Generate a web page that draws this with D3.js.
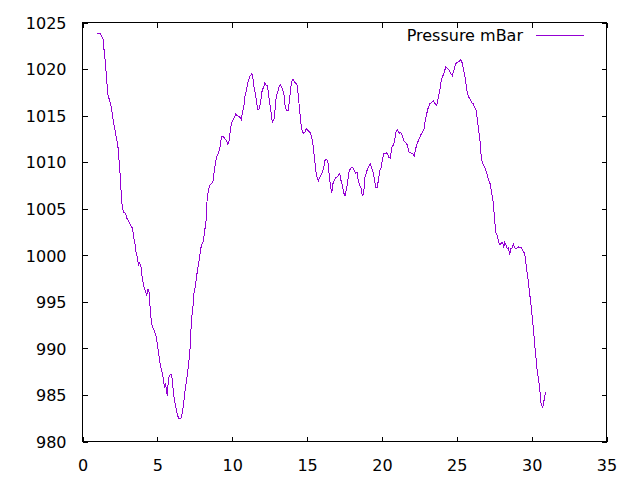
<!DOCTYPE html>
<html>
<head>
<meta charset="utf-8">
<script src="https://cdn.jsdelivr.net/npm/d3@7"></script>
<style>
  body { margin: 0; background: #fff; }
  svg { display: block; }
  text { font-family: "DejaVu Sans", sans-serif; font-size: 16px; fill: #000; }
</style>
</head>
<body>
<svg id="chart" width="640" height="480"></svg>
<script>

  //============================================================
  // Data
  //------------------------------------------------------------

  var seriesName = 'Pressure mBar';

  var day = [
    1.00, 1.18, 1.25, 1.32, 1.40, 1.43, 1.50, 1.56, 1.63, 1.70, 1.78, 1.85, 1.94, 2.03, 2.12, 2.20,
    2.30, 2.38, 2.47, 2.54, 2.60, 2.67, 2.74, 2.87, 2.96, 3.12, 3.23, 3.34, 3.43, 3.52, 3.58, 3.67,
    3.74, 3.81, 3.90, 3.97, 4.05, 4.14, 4.23, 4.30, 4.37, 4.45, 4.52, 4.61, 4.70, 4.79, 4.90, 4.99,
    5.07, 5.17, 5.25, 5.34, 5.41, 5.47, 5.54, 5.61, 5.67, 5.74, 5.83, 5.92, 5.99, 6.07, 6.17, 6.26,
    6.34, 6.44, 6.57, 6.66, 6.74, 6.84, 6.92, 7.01, 7.10, 7.19, 7.28, 7.37, 7.44, 7.52, 7.61, 7.68,
    7.77, 7.86, 7.94, 8.04, 8.12, 8.21, 8.28, 8.32, 8.41, 8.50, 8.59, 8.70, 8.81, 8.91, 8.99, 9.08,
    9.17, 9.28, 9.39, 9.51, 9.61, 9.71, 9.79, 9.86, 9.95, 10.04, 10.15, 10.24, 10.33, 10.44, 10.53, 10.61,
    10.68, 10.77, 10.86, 10.95, 11.04, 11.13, 11.21, 11.31, 11.38, 11.46, 11.55, 11.64, 11.73, 11.82, 11.91, 12.00,
    12.08, 12.18, 12.26, 12.35, 12.42, 12.51, 12.60, 12.68, 12.78, 12.86, 12.95, 13.04, 13.15, 13.23, 13.35, 13.46,
    13.55, 13.64, 13.75, 13.82, 13.91, 14.02, 14.11, 14.22, 14.31, 14.40, 14.49, 14.58, 14.67, 14.75, 14.85, 14.95,
    15.07, 15.20, 15.31, 15.40, 15.49, 15.58, 15.67, 15.75, 15.85, 15.93, 16.02, 16.11, 16.20, 16.29, 16.38, 16.47,
    16.56, 16.65, 16.74, 16.82, 16.92, 17.00, 17.09, 17.18, 17.27, 17.36, 17.45, 17.54, 17.62, 17.72, 17.80, 17.89,
    17.98, 18.07, 18.16, 18.25, 18.34, 18.42, 18.52, 18.61, 18.69, 18.78, 18.87, 18.96, 19.05, 19.14, 19.23, 19.32,
    19.41, 19.49, 19.59, 19.67, 19.76, 19.85, 19.94, 20.03, 20.12, 20.21, 20.29, 20.39, 20.47, 20.56, 20.65, 20.74,
    20.83, 20.92, 21.03, 21.14, 21.26, 21.36, 21.46, 21.56, 21.66, 21.74, 21.83, 21.94, 22.06, 22.16, 22.26, 22.36,
    22.48, 22.59, 22.70, 22.81, 22.90, 22.99, 23.10, 23.21, 23.32, 23.43, 23.54, 23.66, 23.77, 23.86, 23.95, 24.03,
    24.15, 24.26, 24.37, 24.48, 24.59, 24.70, 24.81, 24.93, 25.03, 25.15, 25.26, 25.35, 25.43, 25.53, 25.61, 25.70,
    25.79, 25.88, 25.99, 26.10, 26.19, 26.28, 26.37, 26.46, 26.55, 26.64, 26.73, 26.82, 26.90, 27.00, 27.10, 27.22,
    27.30, 27.40, 27.48, 27.55, 27.62, 27.70, 27.80, 27.88, 27.97, 28.06, 28.13, 28.20, 28.28, 28.37, 28.46, 28.53,
    28.60, 28.69, 28.77, 28.87, 28.95, 29.04, 29.13, 29.22, 29.31, 29.40, 29.49, 29.57, 29.67, 29.75, 29.84, 29.93,
    30.02, 30.11, 30.20, 30.29, 30.37, 30.47, 30.56, 30.64, 30.74, 30.80, 30.87, 30.96
  ];

  var pressure = [
    1023.8, 1023.8, 1023.6, 1023.4, 1023.1, 1022.2, 1021.1, 1020.1, 1018.5, 1017.2, 1016.8, 1016.4, 1015.8, 1014.7, 1013.9, 1013.2,
    1012.3, 1011.5, 1009.6, 1008.2, 1006.1, 1005.1, 1004.6, 1004.5, 1004.0, 1003.5, 1003.2, 1002.9, 1001.8, 1001.1, 1000.3, 999.7,
    998.9, 999.2, 998.9, 997.8, 997.0, 996.4, 996.0, 995.7, 996.4, 996.0, 994.3, 992.7, 992.2, 991.9, 991.4, 990.6,
    989.6, 988.5, 987.8, 987.3, 986.6, 985.8, 986.3, 985.5, 984.9, 986.8, 987.1, 987.2, 986.8, 985.3, 984.2, 983.5,
    982.8, 982.5, 982.5, 983.0, 983.9, 985.3, 986.2, 987.3, 988.5, 990.1, 993.2, 994.3, 995.9, 996.5, 997.6, 998.4,
    999.2, 1000.2, 1001.1, 1001.3, 1002.1, 1003.2, 1004.1, 1005.9, 1007.0, 1007.5, 1007.7, 1007.8, 1009.1, 1010.2, 1010.7, 1011.0,
    1011.5, 1012.7, 1012.8, 1012.5, 1012.3, 1011.9, 1012.3, 1013.2, 1014.2, 1014.5, 1014.8, 1015.2, 1015.0, 1014.9, 1014.8, 1014.6,
    1015.3, 1015.9, 1017.2, 1017.7, 1018.5, 1019.0, 1019.3, 1019.5, 1019.0, 1018.0, 1017.4, 1016.3, 1015.6, 1015.8, 1016.6, 1017.7,
    1018.0, 1018.5, 1018.3, 1018.2, 1017.4, 1016.3, 1015.3, 1014.3, 1014.5, 1015.6, 1017.2, 1017.5, 1018.2, 1018.3, 1017.9, 1017.2,
    1015.8, 1015.6, 1015.6, 1016.6, 1018.0, 1018.9, 1018.8, 1018.5, 1018.5, 1017.4, 1015.8, 1014.3, 1013.4, 1013.1, 1013.2, 1013.6,
    1013.4, 1013.2, 1012.7, 1011.8, 1010.5, 1009.1, 1008.4, 1008.0, 1008.4, 1008.6, 1008.9, 1009.4, 1010.2, 1010.3, 1010.2, 1008.8,
    1007.5, 1006.7, 1007.8, 1008.0, 1008.4, 1008.4, 1008.6, 1008.8, 1008.0, 1007.5, 1006.7, 1006.4, 1007.0, 1008.0, 1008.9, 1009.3,
    1009.4, 1009.4, 1009.1, 1008.8, 1008.9, 1008.0, 1007.5, 1007.2, 1006.4, 1006.6, 1008.4, 1008.9, 1009.3, 1009.6, 1009.8, 1009.4,
    1008.9, 1008.2, 1007.3, 1007.2, 1008.0, 1009.1, 1009.4, 1010.2, 1010.9, 1010.9, 1011.0, 1010.9, 1010.5, 1010.4, 1011.6, 1011.8,
    1012.1, 1013.2, 1013.5, 1013.1, 1013.2, 1012.9, 1012.3, 1012.1, 1012.0, 1011.5, 1011.0, 1011.0, 1010.9, 1010.7, 1011.5, 1012.0,
    1012.5, 1012.9, 1013.2, 1013.6, 1014.5, 1015.2, 1015.9, 1016.3, 1016.4, 1016.6, 1016.3, 1016.1, 1017.0, 1017.7, 1018.6, 1019.1,
    1019.6, 1020.2, 1020.1, 1019.9, 1019.5, 1019.3, 1019.9, 1020.6, 1020.7, 1020.8, 1021.0, 1020.7, 1020.1, 1019.3, 1018.5, 1017.5,
    1017.0, 1016.8, 1016.4, 1016.3, 1015.9, 1015.6, 1014.7, 1013.4, 1012.3, 1010.4, 1009.9, 1009.6, 1009.3, 1008.9, 1008.2, 1007.7,
    1007.0, 1006.1, 1004.8, 1003.4, 1002.4, 1002.1, 1001.4, 1001.1, 1001.3, 1001.4, 1000.8, 1001.4, 1001.1, 1000.7, 1000.8, 1000.0,
    1000.7, 1000.8, 1001.2, 1000.8, 1000.7, 1000.8, 1000.9, 1000.8, 1000.8, 1000.5, 1000.3, 999.8, 998.4, 997.6, 996.2, 995.1,
    993.7, 992.2, 990.5, 989.0, 987.6, 986.6, 985.3, 983.9, 983.7, 984.1, 984.9, 985.3
  ];

  var xTicks = [0, 5, 10, 15, 20, 25, 30, 35];
  var yTicks = [980, 985, 990, 995, 1000, 1005, 1010, 1015, 1020, 1025];

  //============================================================


  var margin = {top: 22.5, right: 33.5, bottom: 38.5, left: 82.5}
    , width = 640
    , height = 480
    , tickSize = 5
    , color = '#9400d3'
    , fmt = d3.format('d')
    ;

  var availableWidth = width - margin.left - margin.right,
      availableHeight = height - margin.top - margin.bottom;

  var data = day.map(function(d, i) { return {x: d, y: pressure[i]}; });

  //------------------------------------------------------------
  // Setup Scales

  var x = d3.scaleLinear()
      .domain([xTicks[0], xTicks[xTicks.length - 1]])
      .range([0, availableWidth]);

  var y = d3.scaleLinear()
      .domain([yTicks[0], yTicks[yTicks.length - 1]])
      .range([availableHeight, 0]);

  //------------------------------------------------------------

  var svg = d3.select('#chart');
  var g = svg.append('g')
      .attr('transform', 'translate(' + margin.left + ',' + margin.top + ')');

  // axes: gnuplot style, ticks pointing in, mirrored on top and right
  function styleAxis(sel, hideText) {
    sel.select('.domain').remove();
    sel.selectAll('.tick line').attr('stroke', '#000').attr('shape-rendering', 'crispEdges');
    if (hideText) sel.selectAll('.tick text').remove();
    sel.selectAll('.tick text').attr('font-family', null).attr('font-size', null).attr('fill', '#000');
  }

  var xAxisG = g.append('g')
      .attr('transform', 'translate(0,' + availableHeight + ')')
      .call(d3.axisBottom(x).tickValues(xTicks).tickFormat(fmt).tickSize(-tickSize).tickPadding(tickSize + 13))
      .call(styleAxis, false);

  g.append('g')
      .call(d3.axisTop(x).tickValues(xTicks).tickSize(-tickSize))
      .call(styleAxis, true);

  var yAxisG = g.append('g')
      .call(d3.axisLeft(y).tickValues(yTicks).tickFormat(fmt).tickSize(-tickSize).tickPadding(tickSize + 11))
      .call(styleAxis, false);

  g.append('g')
      .attr('transform', 'translate(' + availableWidth + ',0)')
      .call(d3.axisRight(y).tickValues(yTicks).tickSize(-tickSize))
      .call(styleAxis, true);

  yAxisG.selectAll('.tick text').attr('dy', '0.36em');
  xAxisG.selectAll('.tick text').attr('dy', '0.71em');

  // frame
  g.append('rect')
      .attr('width', availableWidth)
      .attr('height', availableHeight)
      .attr('fill', 'none')
      .attr('stroke', '#000')
      .attr('shape-rendering', 'crispEdges');

  //------------------------------------------------------------
  // Line

  g.append('path')
      .datum(data)
      .attr('fill', 'none')
      .attr('stroke', color)
      .attr('stroke-width', 1)
      .attr('shape-rendering', 'crispEdges')
      .attr('d', d3.line()
        .x(function(d) { return x(d.x) })
        .y(function(d) { return y(d.y) })
      );

  //------------------------------------------------------------
  // Legend

  var legend = g.append('g')
      .attr('transform', 'translate(' + (availableWidth - 70.5) + ',' + 12.5 + ')');
  legend.append('text')
      .attr('x', -13)
      .attr('dy', '0.36em')
      .attr('text-anchor', 'end')
      .text(seriesName);
  legend.append('line')
      .attr('x1', 0).attr('x2', 48)
      .attr('stroke', color)
      .attr('shape-rendering', 'crispEdges');

</script>
</body>
</html>
